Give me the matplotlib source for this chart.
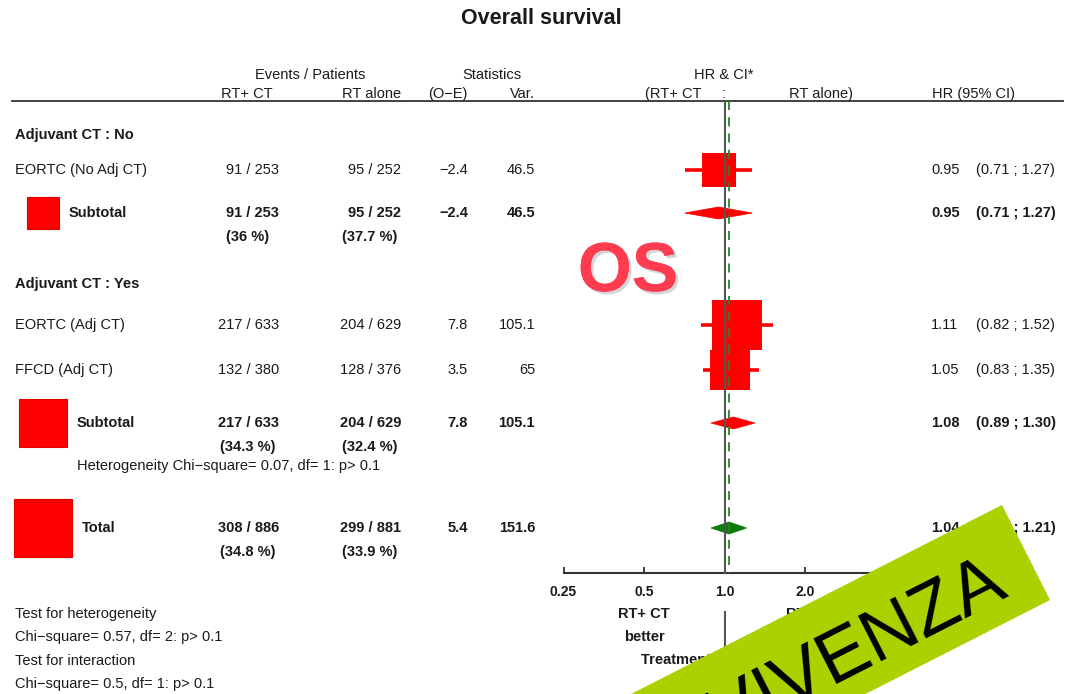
import numpy as np
import matplotlib
matplotlib.use("Agg")
import matplotlib.pyplot as plt
from matplotlib.patches import Polygon, Rectangle
import matplotlib.patheffects as pe

plt.rcParams['font.family'] = ['Liberation Sans', 'DejaVu Sans']

# ---------------- data ----------------
studies = ["EORTC (No Adj CT)", "EORTC (Adj CT)", "FFCD (Adj CT)"]
ev_ct = [91, 217, 132]
n_ct = [253, 633, 380]
ev_rt = [95, 204, 128]
n_rt = [252, 629, 376]
o_e = [-2.4, 7.8, 3.5]
var = [46.5, 105.1, 65]
hr = [0.95, 1.11, 1.05]
hr_lo = [0.71, 0.82, 0.83]
hr_hi = [1.27, 1.52, 1.35]

sub_labels = ["Subtotal", "Subtotal", "Total"]
sub_ev_ct = [91, 217, 308]
sub_n_ct = [253, 633, 886]
sub_pct_ct = ["36", "34.3", "34.8"]
sub_ev_rt = [95, 204, 299]
sub_n_rt = [252, 629, 881]
sub_pct_rt = ["37.7", "32.4", "33.9"]
sub_oe = [-2.4, 7.8, 5.4]
sub_var = [46.5, 105.1, 151.6]
sub_hr = [0.95, 1.08, 1.04]
sub_lo = [0.71, 0.89, 0.89]
sub_hi = [1.27, 1.30, 1.21]

group_titles = ["Adjuvant CT : No", "Adjuvant CT : Yes"]
tick_vals = [0.25, 0.5, 1.0, 2.0, 4.0]
tick_labels = ["0.25", "0.5", "1.0", "2.0", "4.0"]
heterog_text = "Heterogeneity Chi\u2212square= 0.07, df= 1: p> 0.1"
footer_left = ["Test for heterogeneity",
               "Chi\u2212square= 0.57, df= 2: p> 0.1",
               "Test for interaction",
               "Chi\u2212square= 0.5, df= 1: p> 0.1"]

# ---------------- layout (pixel rows) ----------------
W, H = 1075, 694
study_y = [170, 325, 370]
sub_y = [213, 423, 528]
group_y = [135, 284]
TXT = '#1a1a1a'
FS = 10.5

def fmt_num(v):
    s = f"{abs(v):g}"
    return ("\u2212" + s) if v < 0 else s

fig = plt.figure(figsize=(W / 100, H / 100), dpi=100)
fig.patch.set_facecolor('white')

# table axes in pixel coordinates
tab = fig.add_axes([0, 0, 1, 1])
tab.set_xlim(0, W)
tab.set_ylim(H, 0)
tab.axis('off')

def t(x, y, s, ha='left', bold=False, size=FS, **kw):
    tab.text(x, y, s, ha=ha, va='center', fontsize=size,
             fontweight='bold' if bold else 'normal', color=TXT, **kw)

t(541, 18, "Overall survival", ha='center', bold=True, size=15.5)
t(310, 75, "Events / Patients", ha='center')
t(492, 75, "Statistics", ha='center')
t(724, 75, "HR & CI*", ha='center')
t(247, 94, "RT+ CT", ha='center')
t(401, 94, "RT alone", ha='right')
t(428, 94, "(O\u2212E)")
t(535, 94, "Var.", ha='right')
t(645, 94, "(RT+ CT")
t(724, 94, ":", ha='center')
t(789, 94, "RT alone)")
t(932, 94, "HR (95% CI)")
tab.plot([12, 1063], [101, 101], color='#333333', lw=1.3)

for g, gy in zip(group_titles, group_y):
    t(15, gy, g, bold=True)

for i, s in enumerate(studies):
    y = study_y[i]
    t(15, y, s)
    t(279, y, f"{ev_ct[i]} / {n_ct[i]}", ha='right')
    t(401, y, f"{ev_rt[i]} / {n_rt[i]}", ha='right')
    t(468, y, fmt_num(o_e[i]), ha='right')
    t(535, y, fmt_num(var[i]), ha='right')
    t(931, y, f"{hr[i]:.2f}")
    t(976, y, f"({hr_lo[i]:.2f} ; {hr_hi[i]:.2f})")

for i, lab in enumerate(sub_labels):
    y = sub_y[i]
    side = 4.7 * np.sqrt(sub_var[i])
    cx = 14 + 4.7 * np.sqrt(sub_var[-1]) / 2
    tab.add_patch(Rectangle((cx - side / 2, y - side / 2), side, side,
                            facecolor='#ff0000', edgecolor='#e00000', lw=0.8))
    t(cx + side / 2 + 10, y, lab, bold=True)
    t(279, y, f"{sub_ev_ct[i]} / {sub_n_ct[i]}", ha='right', bold=True)
    t(401, y, f"{sub_ev_rt[i]} / {sub_n_rt[i]}", ha='right', bold=True)
    t(248, y + 24, f"({sub_pct_ct[i]} %)", ha='center', bold=True)
    t(370, y + 24, f"({sub_pct_rt[i]} %)", ha='center', bold=True)
    t(468, y, fmt_num(sub_oe[i]), ha='right', bold=True)
    t(535, y, fmt_num(sub_var[i]), ha='right', bold=True)
    t(931, y, f"{sub_hr[i]:.2f}", bold=True)
    t(976, y, f"({sub_lo[i]:.2f} ; {sub_hi[i]:.2f})", bold=True)

t(77, 466, heterog_text)
for k, line in enumerate(footer_left):
    t(15, 614 + k * 23.3, line)

# ---------------- forest axes ----------------
REF_PX, PPD = 724.5, 80.5
x0, x1 = 0.2, 6.0
left_px = REF_PX + PPD * np.log2(x0)
right_px = REF_PX + PPD * np.log2(x1)
ax = fig.add_axes([left_px / W, 0, (right_px - left_px) / W, 1])
ax.set_xscale('log', base=2)
ax.set_xlim(x0, x1)
ax.set_ylim(H, 0)
ax.patch.set_alpha(0)
for sp in ['top', 'left', 'right']:
    ax.spines[sp].set_visible(False)
AXIS_Y = 573
ax.spines['bottom'].set_position(('data', AXIS_Y))
ax.spines['bottom'].set_bounds(tick_vals[0], tick_vals[-1])
ax.spines['bottom'].set_color('#333333')
ax.spines['bottom'].set_linewidth(1.5)
ax.set_xticks(tick_vals)
ax.set_xticklabels(tick_labels, fontweight='bold', fontsize=10, color=TXT)
ax.xaxis.set_minor_locator(matplotlib.ticker.NullLocator())
ax.tick_params(axis='x', direction='in', length=4, width=1.3, color='#333333', pad=9)
ax.set_yticks([])

# reference lines
ax.plot([1, 1], [101, AXIS_Y], color='#555555', lw=1.5, zorder=5)
ax.plot([1, 1], [612, H], color='#555555', lw=1.5, zorder=5)
ax.plot([sub_hr[-1]] * 2, [101, AXIS_Y], color='#1e8a1e', lw=1.3,
        dashes=(5, 4), zorder=5)

# study squares + CIs
for i in range(len(studies)):
    y = study_y[i]
    ax.plot([hr_lo[i], hr_hi[i]], [y, y], color='#ff0000', lw=2.6, zorder=3,
            solid_capstyle='butt')
    side_pt = 4.85 * np.sqrt(var[i]) * 72 / 100
    ax.plot([hr[i]], [y], marker='s', markersize=side_pt, color='#ff0000',
            markeredgewidth=0, zorder=4)

# diamonds
for i in range(len(sub_labels)):
    y = sub_y[i]
    col = '#0a7a0a' if i == len(sub_labels) - 1 else '#ff0000'
    ax.add_patch(Polygon([(sub_lo[i], y), (sub_hr[i], y - 6), (sub_hi[i], y),
                          (sub_hr[i], y + 6)], closed=True, facecolor=col,
                         edgecolor=col, lw=0.5, zorder=4))

# below-axis labels
half = tick_vals[1]
ax.text(half, 614, "RT+ CT", ha='center', va='center', fontsize=FS, fontweight='bold', color=TXT)
ax.text(half, 637, "better", ha='center', va='center', fontsize=FS, fontweight='bold', color=TXT)
t(786, 614, "RT alone", bold=True)
t(805, 637, "better", ha='center', bold=True)
t(641, 660, "Treatment effect: p> 0.1", bold=True)

# ---------------- overlays ----------------
top = fig.add_axes([0, 0, 1, 1])
top.set_xlim(0, W)
top.set_ylim(H, 0)
top.axis('off')
top.patch.set_alpha(0)

top.text(628, 273, "OS", ha='center', va='center', fontsize=50, fontweight='bold',
         color='#ff3b50',
         path_effects=[pe.withSimplePatchShadow(offset=(2, -2), shadow_rgbFace='#888888', alpha=0.35),
                       pe.Normal()])

ang = np.deg2rad(27)
u = np.array([-np.cos(ang), np.sin(ang)])
A = np.array([1002, 505])
B = np.array([1050, 600])
top.add_patch(Polygon([A, B, B + 1200 * u, A + 1200 * u], closed=True,
                      facecolor='#a9d200', edgecolor='none', zorder=10))
top.text(1010, 594, "SOPRAVVIVENZA", ha='right', va='baseline', rotation=27,
         rotation_mode='anchor', fontsize=54, color='black', zorder=11)

fig.savefig("out.png", dpi=100, facecolor='white')
